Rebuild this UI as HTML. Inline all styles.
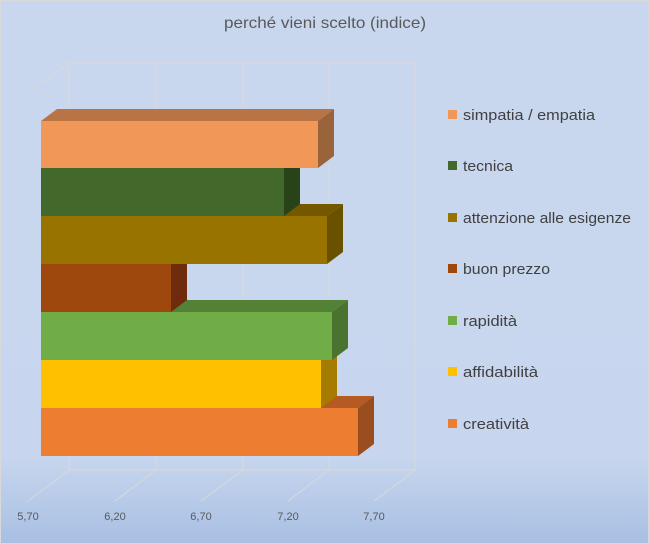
<!DOCTYPE html>
<html><head><style>
body{margin:0;}
</style></head><body>
<svg width="649" height="544" xmlns="http://www.w3.org/2000/svg" style="display:block;font-family:'Liberation Sans',sans-serif">
<defs><linearGradient id="bg" x1="0" y1="0" x2="0" y2="1">
<stop offset="0" stop-color="#c9d7ee"/><stop offset="0.84" stop-color="#c7d6ee"/><stop offset="1" stop-color="#a8bfe3"/></linearGradient></defs>
<rect width="649" height="544" fill="url(#bg)"/>
<rect x="0.5" y="0.5" width="648" height="543" fill="none" stroke="#d9d9d9"/>
<text x="224" y="28" textLength="202" lengthAdjust="spacingAndGlyphs" font-size="16" fill="#595959">perché vieni scelto (indice)</text>
<g stroke="#d9d9d9" stroke-width="1" fill="none">
<path d="M69,63H415V470H69Z M156,63V470 M243,63V470 M329,63V470 M69,63L28,93 M69,470L28,501 M156,470L115,501 M243,470L201,501 M329,470L288,501 M415,470L374,501"/>
</g>
<g font-size="11" fill="#595959" text-anchor="middle">
<text x="28" y="520">5,70</text><text x="115" y="520">6,20</text><text x="201" y="520">6,70</text><text x="288" y="520">7,20</text><text x="374" y="520">7,70</text>
</g>
<g>
<polygon points="41,408 57,396 374,396 358,408" fill="#b65a24"/><polygon points="358,408 374,396 374,444 358,456" fill="#9a4d1f"/><rect x="41" y="408" width="317" height="48" fill="#ed7d31"/>
<polygon points="41,360 57,348 337,348 321,360" fill="#bf9000"/><polygon points="321,360 337,348 337,396 321,408" fill="#a67c00"/><rect x="41" y="360" width="280" height="48" fill="#ffc000"/>
<polygon points="41,312 57,300 348,300 332,312" fill="#538135"/><polygon points="332,312 348,300 348,348 332,360" fill="#4a732f"/><rect x="41" y="312" width="291" height="48" fill="#70ad47"/>
<polygon points="41,264 57,252 187,252 171,264" fill="#7d320d"/><polygon points="171,264 187,252 187,300 171,312" fill="#6e2c0c"/><rect x="41" y="264" width="130" height="48" fill="#9e480e"/>
<polygon points="41,216 57,204 343,204 327,216" fill="#735800"/><polygon points="327,216 343,204 343,252 327,264" fill="#6a5100"/><rect x="41" y="216" width="286" height="48" fill="#997300"/>
<polygon points="41,168 57,156 300,156 284,168" fill="#2f4f1c"/><polygon points="284,168 300,156 300,204 284,216" fill="#284318"/><rect x="41" y="168" width="243" height="48" fill="#43682b"/>
<polygon points="41,121 57,109 334,109 318,121" fill="#b97446"/><polygon points="318,121 334,109 334,156 318,168" fill="#9a643a"/><rect x="41" y="121" width="277" height="47" fill="#f19859"/>
</g>
<g font-size="15" fill="#404040">
<rect x="448" y="110" width="9" height="9" fill="#f19859"/><text x="463" y="120" textLength="132" lengthAdjust="spacingAndGlyphs">simpatia / empatia</text>
<rect x="448" y="161" width="9" height="9" fill="#43682b"/><text x="463" y="171" textLength="50" lengthAdjust="spacingAndGlyphs">tecnica</text>
<rect x="448" y="213" width="9" height="9" fill="#997300"/><text x="463" y="223" textLength="168" lengthAdjust="spacingAndGlyphs">attenzione alle esigenze</text>
<rect x="448" y="264" width="9" height="9" fill="#9e480e"/><text x="463" y="274" textLength="87" lengthAdjust="spacingAndGlyphs">buon prezzo</text>
<rect x="448" y="316" width="9" height="9" fill="#70ad47"/><text x="463" y="326" textLength="54" lengthAdjust="spacingAndGlyphs">rapidità</text>
<rect x="448" y="367" width="9" height="9" fill="#ffc000"/><text x="463" y="377" textLength="75" lengthAdjust="spacingAndGlyphs">affidabilità</text>
<rect x="448" y="419" width="9" height="9" fill="#ed7d31"/><text x="463" y="429" textLength="66" lengthAdjust="spacingAndGlyphs">creatività</text>
</g>
</svg>
</body></html>
